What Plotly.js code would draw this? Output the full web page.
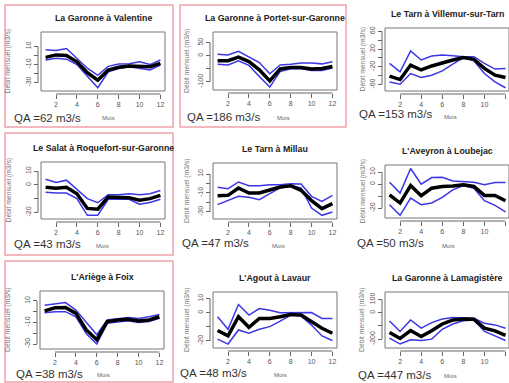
<!DOCTYPE html>
<html>
<head>
<meta charset="utf-8">
<script src="https://cdn.plot.ly/plotly-3.0.1.min.js"></script>
<style>html,body{margin:0;padding:0;background:#fff;}#chart{width:509px;height:383px;}</style>
</head>
<body>
<div id="chart"></div>
<script>
// ---------------- DATA ----------------
const months = [1,2,3,4,5,6,7,8,9,10,11,12];
const xTickVals = [2,4,6,8,10,12];
const stations = [
  "La Garonne à Valentine","La Garonne à Portet-sur-Garonne","Le Tarn à Villemur-sur-Tarn",
  "Le Salat à Roquefort-sur-Garonne","Le Tarn à Millau","L'Aveyron à Loubejac",
  "L'Ariège à Foix","L'Agout à Lavaur","La Garonne à Lamagistère"
];
const qaValues = [62,186,153,43,47,50,38,48,447];

const upperBand = [
  [6.3,5.5,7.8,-3,-14,-22,-12,-9.5,-9,-7,-10,-5],
  [6,3,17,-3,-26,-69,-35,-32,-28,-28,-31,-23],
  [-12,-31,16,-4.5,4.6,7,5,3,3,-12,-25,-23.5],
  [4.2,1.9,3.5,-3.3,-9.9,-12.9,-7,-7,-6.4,-7,-6.4,-4],
  [-4,-5.4,1.6,-2.3,-2.3,-1.2,-1.2,-0.2,-0.5,-13.5,-18.8,-12.5],
  [1.6,-7.4,13,0,5.5,5.8,2.7,2.2,1.6,-0.5,1.4,1.4],
  [6,7.6,8.5,1.5,-10,-21.4,-7.7,-6.8,-5.3,-6.2,-4.7,-2.5],
  [-2.8,-11.7,5.9,-1.6,3,1.9,0,0,0.5,0.2,-4,-4],
  [-62,-142,-55,-117,-75,-47,-37,-37,-42,-80,-92,-117]
];
const meanFlow = [
  [-2,0.7,0,-7,-19,-27.4,-16,-13,-11.7,-12.4,-12.4,-8.7],
  [-19,-19,-5,-22,-54,-96,-50,-45,-45,-51,-49,-41],
  [-41,-48.6,-16,-27,-18,-10.6,-4.5,0.8,-3,-23.5,-38.7,-44],
  [-1.6,-2.4,-1.6,-6.4,-17,-17.6,-8.7,-8.7,-9.2,-11,-9.9,-7.5],
  [-12.8,-12.5,-4.7,-10,-10,-6.5,-3.7,-2.3,-7.2,-18,-26.5,-21.2],
  [-8.8,-15.6,-1.1,-9.6,-3.3,-1.9,-1.4,-0.5,-1.9,-9.3,-9.3,-13.7],
  [0.8,3.6,3.9,-1.6,-16.9,-26,-9.2,-7.7,-7.1,-8.6,-7.7,-4.7],
  [-12.6,-16.4,-2.8,-10.3,-4,-4,-2.8,-1.2,-1.6,-6.3,-11,-14.5],
  [-150,-195,-135,-180,-137,-85,-55,-47,-50,-117,-137,-172]
];
const lowerBand = [
  [-5,-3,-4,-10,-23,-35.6,-18,-14.3,-12.4,-14.3,-16,-10.6],
  [-32,-35,-19,-37,-79,-120,-60,-50,-50,-56,-56,-47],
  [-54,-59,-35,-44,-38.7,-29,-13.7,0.8,-6,-35,-54,-67],
  [-5.2,-5.9,-5.9,-9.9,-22,-22,-10.4,-10.4,-10.4,-14,-12.7,-10.4],
  [-22.3,-18,-13.5,-14.6,-17,-10.7,-4.7,-2,-4.7,-25.8,-33.5,-30],
  [-17,-25.8,-11.5,-17,-15.6,-11,-4.7,-1.1,-3.3,-13.7,-17.5,-23],
  [-1,0,0,-4.7,-20.5,-30,-10.8,-9.2,-8.3,-10,-9.2,-6.2],
  [-18.7,-22.2,-12.2,-14.5,-11.7,-9.8,-5.9,-1.6,-2.3,-8.7,-16.4,-19.7],
  [-192,-237,-205,-210,-200,-125,-85,-60,-55,-142,-175,-210]
];
const yTickVals = [
  [10,0,-10,-20,-30],[50,0,-50,-100],[60,40,20,0,-20,-40,-60],
  [10,0,-10,-20],[10,0,-10,-20,-30],[10,0,-10,-20],
  [10,0,-10,-20,-30],[10,0,-10,-20],[100,0,-100,-200]
];
const yTickText = [
  ["10","","-10","","-30"],["50","0","","-100"],["60","","20","","-20","","-60"],
  ["10","0","","-20"],["10","","-10","","-30"],["10","0","","-20"],
  ["10","","-10","","-30"],["10","0","","-20"],["100","0","","-200"]
];

// ---------------- LAYOUT GEOMETRY (pixels) ----------------
const W = 509, H = 383;
const px = x => x / W;
const py = y => 1 - y / H;
// plot boxes: left, right, top, bottom
const boxes = [
  [41,165,32,91],[213,337,32,90],[385,509,28,91],
  [41,165,162,219],[213,337,163,219],[385,509,165,218],
  [40,164,291,349],[213,337,292,348],[385,509,292,348]
];
const yRanges = [
  [-39.3,26.1],[-131,91],[-74.4,67.6],
  [-24.7,16.7],[-37.4,21.6],[-28,15.9],
  [-34.6,19.2],[-25,14.8],[-267,157]
];
const qaPos = [[12,118],[185,117],[357,114],[12,244],[180,243],[355,243],[14,374],[178,373],[356,375]];
const moisPos = [[100,118],[275,118],[442,117],[94,246],[270,246],[440,246],[95,375],[272,375],[442,376]];
const ylabX = [8,187,362,8,187,362,8,187,362];
const redFrames = [[5,173,5,127],[180,346,5,127],[5,173,133,255],[5,173,261,382]];

const FONT = "Liberation Sans, Arial, sans-serif";
const blue = "#3b36e6";
const traces = [], shapes = [], annotations = [];
const layout = {
  width: W, height: H, margin: {l:0,r:0,t:0,b:0},
  paper_bgcolor: "#fff", plot_bgcolor: "#fff", showlegend: false,
  font: {family: FONT}
};

for (let i = 0; i < 9; i++) {
  const n = i + 1;
  const xa = "x" + (n === 1 ? "" : n), ya = "y" + (n === 1 ? "" : n);
  const xk = "xaxis" + (n === 1 ? "" : n), yk = "yaxis" + (n === 1 ? "" : n);
  const [L, R, T, B] = boxes[i];
  const col = i % 3;
  const xr = col === 2 ? [0.57, 12.33] : [0.56, 12.44];
  const xPos = py(B + 3), yPos = px(L - 3);
  layout[xk] = {
    domain: [px(L), px(R)], range: xr, anchor: "free", position: xPos,
    tickvals: xTickVals, ticks: "outside", ticklen: 4, tickcolor: "#666",
    showgrid: false, zeroline: false, showline: false,
    tickfont: {size: 7, color: "#555", family: FONT}, fixedrange: true
  };
  layout[yk] = {
    domain: [py(B), py(T)], range: yRanges[i], anchor: "free", position: yPos,
    tickvals: yTickVals[i], ticktext: yTickText[i], tickangle: -90,
    ticks: "outside", ticklen: 4, tickcolor: "#666",
    showgrid: false, zeroline: false, showline: false,
    tickfont: {size: 7, color: "#555", family: FONT}, fixedrange: true
  };
  [[upperBand, blue, 1.5], [lowerBand, blue, 1.5], [meanFlow, "#000", 3.5]].forEach(([arr, c, w]) => {
    traces.push({x: months, y: arr[i], xaxis: xa, yaxis: ya, type: "scatter", mode: "lines",
      line: {color: c, width: w}, hoverinfo: "skip"});
  });
  // plot box
  shapes.push({type: "rect", xref: xa + " domain", yref: ya + " domain", x0: 0, x1: 1, y0: 0, y1: 1,
    line: {color: "#777", width: 1}});
  // R-style axis lines spanning first to last tick
  shapes.push({type: "line", xref: xa, yref: "paper", x0: xTickVals[0], x1: xTickVals[xTickVals.length - 1],
    y0: xPos, y1: xPos, line: {color: "#666", width: 1}});
  const tv = yTickVals[i];
  shapes.push({type: "line", xref: "paper", yref: ya, x0: yPos, x1: yPos,
    y0: Math.min(...tv), y1: Math.max(...tv), line: {color: "#666", width: 1}});
  // title
  annotations.push({text: "<b>" + stations[i] + "</b>", xref: "paper", yref: "paper",
    x: px((L + R) / 2), y: py(T - 14), xanchor: "center", yanchor: "middle", showarrow: false,
    font: {size: 8.8, color: "#222", family: FONT}});
  // QA
  annotations.push({text: "QA =" + qaValues[i] + " m3/s", xref: "paper", yref: "paper",
    x: px(qaPos[i][0]), y: py(qaPos[i][1]), xanchor: "left", yanchor: "middle", showarrow: false,
    font: {size: 11.5, color: "#333", family: FONT}});
  // Mois
  annotations.push({text: "Mois", xref: "paper", yref: "paper",
    x: px(moisPos[i][0]), y: py(moisPos[i][1]), xanchor: "left", yanchor: "middle", showarrow: false,
    font: {size: 6, color: "#666", family: FONT}});
  // y label
  annotations.push({text: "Débit mensuel (m3/s)", xref: "paper", yref: "paper", textangle: -90,
    x: px(ylabX[i]), y: py((T + B) / 2), xanchor: "center", yanchor: "middle", showarrow: false,
    font: {size: 6.8, color: "#777", family: FONT}});
}
redFrames.forEach(([l, r, t, b]) => {
  shapes.push({type: "rect", xref: "paper", yref: "paper", x0: px(l), x1: px(r), y0: py(b), y1: py(t),
    line: {color: "#f0a3aa", width: 1.5}});
});
layout.shapes = shapes;
layout.annotations = annotations;
Plotly.newPlot("chart", traces, layout, {staticPlot: true, displayModeBar: false});
</script>
</body>
</html>
